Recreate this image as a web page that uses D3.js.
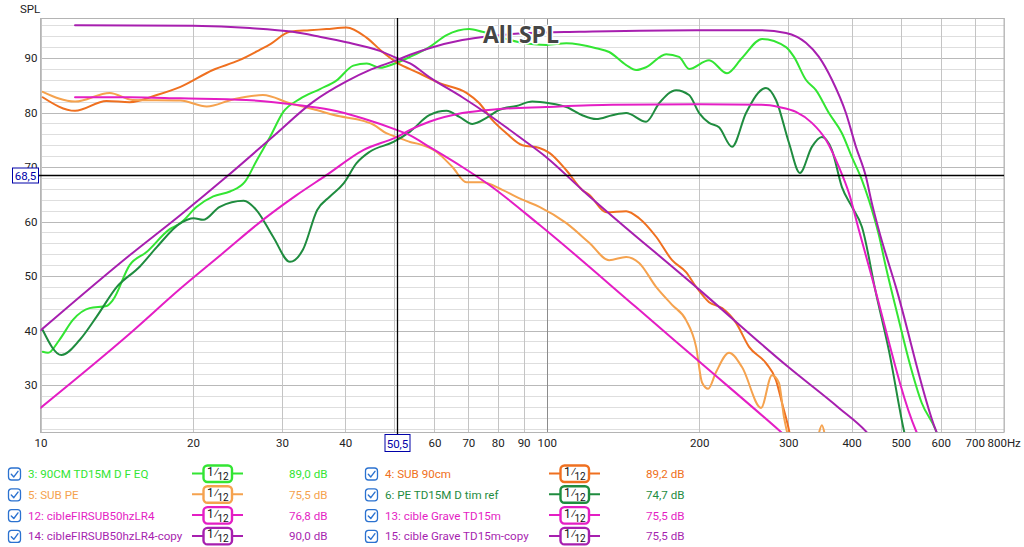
<!DOCTYPE html>
<html><head><meta charset="utf-8">
<script src="https://cdn.jsdelivr.net/npm/d3@7/dist/d3.min.js"></script>
<style>
html,body{margin:0;padding:0;background:#fff;}
svg{display:block;font-family:Roboto,"Noto Sans",sans-serif;}
</style></head>
<body>
<svg id="c" width="1024" height="547"></svg>
<script>
// ---------- DATA ----------
const freqTicks = [10,20,30,40,50,60,70,80,90,100,200,300,400,500,600,700,800];
const freqTickLabels = ["10","20","30","40","","60","70","80","90","100","200","300","400","500","600","700","800Hz"];
const dbTicks = [30,40,50,60,70,80,90];
const dbTickLabels = ["30","40","50","60","70","80","90"];

// 3: 90CM TD15M D F EQ
const s3 = [[10.1,36.1],[10.35,35.9],[10.9,38.3],[11.6,42],[12.5,44.1],[13.5,44.5],[13.9,45.6],[15.0,52],[16.2,54.4],[18.0,58.6],[18.9,59.7],[20.35,62.7],[21.94,64.6],[23.67,65.5],[25.35,67.3],[26.73,71.2],[28.4,75.5],[30.17,80.1],[32.54,82.5],[35.65,84.3],[38.46,85.9],[41.48,88.6],[44.1,89.0],[46.83,88.2],[50.13,89.0],[53.7,90.2],[58.6,92],[63.4,94.2],[70.3,95.3],[74.6,94.8],[88.3,92.9],[99.8,92.4],[109.3,92.7],[125.2,91.8],[132.8,91.1],[143.5,88.7],[150.2,87.8],[157.1,88.3],[172.1,90.7],[182.5,90.2],[191.0,88.0],[209.2,89.6],[227.0,87.2],[243.0,90],[266.2,93.5],[296.8,92],[307.8,90.2],[324.9,86],[340.1,84.1],[360.8,79.9],[382.8,76.2],[400.6,71.8],[419.3,67.6],[432.8,63.9],[452.8,57.5],[467.4,51.7],[495.9,41.9],[518.8,34.6],[550.4,26.7],[586.6,21.7],[600,19]];
// 4: SUB 90cm
const s4 = [[10.1,82.8],[11.7,80.3],[13.5,82.1],[15.0,81.9],[16.97,83.2],[18.9,84.7],[21.9,87.8],[24.7,89.6],[27.1,91.5],[28.5,92.6],[31.05,94.8],[34.0,95.1],[36.7,95.3],[40.2,95.6],[44.1,93.7],[47.4,91.1],[50.5,89.2],[56.0,87.2],[61.4,85.4],[69.4,83.6],[73.6,81.7],[78.1,78.6],[83.2,76.2],[89.5,74],[96.7,73.5],[101.2,72.6],[109.3,69.4],[117.5,65.8],[121.3,64.9],[131.0,61.7],[143.5,61.9],[152.2,60.6],[164.4,57.2],[176.8,52.9],[188.4,50.7],[197.2,48],[209.2,45.2],[222.0,44.1],[236.5,41.4],[250.9,37],[271.0,34],[283.6,30.9],[291.5,26.7],[300.9,21.7],[305,19]];
// 5: SUB PE
const s5 = [[10.1,83.8],[11.7,82],[13.7,83.6],[15.2,82.3],[18.9,82.2],[21.3,81.1],[24.0,82.4],[27.5,83.2],[31.1,81.7],[34.6,80.6],[39.0,79.3],[42.4,78.7],[45.4,77.8],[48.2,76.2],[50.5,75.5],[53.7,74.6],[56.0,74.2],[60.5,72.8],[65.1,70],[69.4,67.2],[74.6,67.2],[81.7,65.8],[89.5,64],[96.7,62.7],[109.3,59.7],[121.3,56.1],[132.8,52.9],[143.5,53.5],[152.2,52.4],[164.4,48],[176.8,44.7],[188.4,41.9],[197.2,37],[202.7,30.4],[208.3,29.3],[216.0,32.4],[229.1,35.9],[243.0,33.3],[265.0,25.8],[278.5,31.8],[287.5,30.4],[294.1,24.1],[298.2,21.4],[305,18],[330,17],[341,19.5],[349.5,22.6],[357,19.5],[368,17]];
// 6: PE TD15M D tim ref
const s6 = [[10.1,40.1],[11.0,35.5],[11.96,38.3],[12.9,42.5],[14.15,48],[15.7,51.7],[16.97,55.3],[18.9,59.7],[20.06,60.6],[20.95,60.3],[22.6,62.7],[25.2,63.8],[26.7,62.1],[28.8,57.2],[31.1,52.6],[32.98,54.8],[35.2,62.1],[37.3,64.6],[39.7,67.0],[42.1,70.7],[44.7,72.8],[49.8,74.6],[53.7,76.5],[58.6,79.5],[63.4,80.3],[67.2,79.2],[71.3,77.9],[76.0,79],[80.6,80.5],[87.1,81.2],[93.6,82],[101.2,81.7],[109.3,81],[117.5,79.5],[125.2,78.8],[134.7,79.5],[143.5,79.9],[157.1,78.3],[166.7,81.7],[180.1,84.1],[191.0,83.2],[200.0,79.9],[209.2,78.1],[218.9,77.3],[232.2,73.7],[247.5,79.9],[271.0,84.5],[283.6,82.3],[300.9,74.4],[316.2,68.9],[333.9,73.7],[349.5,75.5],[365.8,73.1],[382.8,66.3],[400.6,62.7],[419.3,59],[446.7,46.9],[473.8,36.4],[507.3,21.7],[515,19]];
// 12: cibleFIRSUB50hzLR4
const s12 = [[11.7,82.8],[15,82.8],[18.9,82.6],[25.5,82.3],[32.1,81.4],[37.3,80.5],[43.4,78.9],[50.5,76.8],[53.7,75.8],[58.6,73.7],[68.1,70],[77,66.7],[96.7,59.4],[150,44.3],[200,34.3],[287.5,21.7],[310,19]];
// 13: cible Grave TD15m
const s13 = [[10,25.8],[15,39.4],[18.9,47.7],[23,54.3],[27.5,60.3],[32,64.8],[36.7,68.5],[43.4,73.1],[50.5,75.5],[53.7,76.8],[58.6,78.3],[68.1,79.9],[79.5,80.6],[99.8,81],[134.7,81.4],[200,81.5],[266.2,81.4],[287.5,81],[310.6,80.1],[333.9,78.1],[355.9,75],[377.6,70],[395.2,65.2],[413.6,58.4],[438.5,49.8],[535.6,21.7],[560,18]];
// 14: cibleFIRSUB50hzLR4-copy
const s14 = [[11.7,96],[20,95.9],[25.9,95.5],[31.5,94.8],[35.6,93.9],[40.2,92.9],[46.8,91.3],[50.5,90],[53.7,89.0],[58.6,86.5],[68.1,82.8],[77.0,79.5],[88.3,75.5],[99.8,71.8],[117.5,65.8],[200,47.5],[300,33.3],[377.6,25.8],[427,21.5],[450,19]];
// 15: cible Grave TD15m-copy
const s15 = [[10,40],[15,53.8],[18.9,61.2],[23.3,68.2],[28.8,75.6],[34.6,82.0],[40.2,85.7],[45,87.9],[50.5,89.6],[53.7,90.6],[58.6,91.8],[68.1,93.3],[77,94],[92.4,94.6],[115.9,94.8],[197.2,95.1],[266.2,95.1],[296.8,94.6],[324.9,92.8],[344.8,90.2],[365.8,86],[389.8,79.9],[408,73.7],[427,68.2],[438.5,63.4],[452.8,58.4],[489.2,48],[586.6,21.7],[610,18]];

const seriesData = [s3, s4, s5, s6, s12, s13, s14, s15];
const legendNames = ["3: 90CM TD15M D F EQ","4: SUB 90cm","5: SUB PE","6: PE TD15M D tim ref","12: cibleFIRSUB50hzLR4","13: cible Grave TD15m","14: cibleFIRSUB50hzLR4-copy","15: cible Grave TD15m-copy"];
const legendValues = ["89,0 dB","89,2 dB","75,5 dB","74,7 dB","76,8 dB","75,5 dB","90,0 dB","75,5 dB"];
const seriesColors = ["#33e533","#ef7020","#f5a24e","#1f8c3f","#e41ec4","#e41ec4","#a71faf","#a71faf"];
const cursorFreq = 50.5, cursorDb = 68.5;
const cursorFreqLabel = "50,5", cursorDbLabel = "68,5";
const titleText = "All SPL", yAxisTitle = "SPL";

// ---------- LAYOUT ----------
const svg = d3.select("#c");
const L = 40.5, R = 1004, T = 18, B = 432;
const x = d3.scaleLog().domain([10,800]).range([L,R]);
const y = d3.scaleLinear().domain([30,90]).range([385,58]);

svg.append("defs").append("clipPath").attr("id","clip")
  .append("rect").attr("x",L).attr("y",T).attr("width",R-L).attr("height",B-T);

const grid = svg.append("g");
const yMin = y.invert(B), yMax = y.invert(T);
const minorDb = d3.range(Math.ceil(yMin/2)*2, yMax, 2);
grid.selectAll(".hm").data(minorDb.filter(d=>d%10!==0)).join("line")
  .attr("x1",L).attr("x2",R).attr("y1",d=>Math.round(y(d))+0.5).attr("y2",d=>Math.round(y(d))+0.5)
  .attr("stroke","#dedede").attr("stroke-width",1);
grid.selectAll(".hM").data(dbTicks).join("line")
  .attr("x1",L).attr("x2",R).attr("y1",d=>Math.round(y(d))+0.5).attr("y2",d=>Math.round(y(d))+0.5)
  .attr("stroke","#b9b9b9").attr("stroke-width",1);
grid.selectAll(".v").data(freqTicks).join("line")
  .attr("x1",d=>Math.round(x(d))+0.5).attr("x2",d=>Math.round(x(d))+0.5).attr("y1",T).attr("y2",B)
  .attr("stroke",d=>d===100?"#8c8c8c":"#c4c4c4").attr("stroke-width",1);
grid.append("rect").attr("x",L).attr("y",T+0.5).attr("width",R-L).attr("height",B-T)
  .attr("fill","none").attr("stroke","#b4b4b4").attr("stroke-width",1);

// axis labels
const xAxis = d3.axisBottom(x).tickValues(freqTicks).tickSize(0).tickPadding(0)
  .tickFormat((d,i)=>freqTickLabels[i]);
const gx = svg.append("g").attr("transform",`translate(0,${B+7})`).call(xAxis);
gx.select(".domain").remove();
gx.selectAll("text").attr("font-size",11.5).attr("fill","#222").attr("font-family","Roboto,sans-serif");
gx.selectAll(".tick").filter(d=>d===800).select("text").attr("text-anchor","start").attr("dx",-17);

const yAxis = d3.axisLeft(y).tickValues(dbTicks).tickSize(0).tickPadding(0)
  .tickFormat((d,i)=>dbTickLabels[i]);
const gy = svg.append("g").attr("transform",`translate(${L-3},0)`).call(yAxis);
gy.select(".domain").remove();
gy.selectAll("text").attr("font-size",11.5).attr("fill","#222").attr("font-family","Roboto,sans-serif");

svg.append("text").attr("x",20).attr("y",13).attr("font-size",11.5).attr("fill","#222").text(yAxisTitle);

// curves
const line = d3.line().x(d=>x(d[0])).y(d=>y(d[1])).curve(d3.curveMonotoneX);
const curves = svg.append("g").attr("clip-path","url(#clip)");
curves.selectAll("path").data(seriesData).join("path")
  .attr("d",line).attr("fill","none")
  .attr("stroke",(d,i)=>seriesColors[i]).attr("stroke-width",2)
  .attr("stroke-linejoin","round").attr("stroke-linecap","round");

// title
svg.append("text").attr("x",521).attr("y",43).attr("text-anchor","middle")
  .attr("font-family","'Open Sans',sans-serif").attr("font-weight","bold").attr("font-size",23)
  .attr("fill","#454545").attr("stroke","#fff").attr("stroke-width",3).attr("paint-order","stroke")
  .attr("stroke-linejoin","round").text(titleText);

// crosshair
const cx = Math.round(x(cursorFreq))+0.5, cy = Math.round(y(cursorDb))+0.5;
svg.append("line").attr("x1",cx).attr("x2",cx).attr("y1",T).attr("y2",B+2).attr("stroke","#000").attr("stroke-width",1.3);
svg.append("line").attr("x1",38).attr("x2",R).attr("y1",cy).attr("y2",cy).attr("stroke","#000").attr("stroke-width",1.3);
svg.append("rect").attr("x",12.5).attr("y",cy-7.5).attr("width",26).attr("height",15).attr("fill","#fff").attr("stroke","#0000a8");
svg.append("text").attr("x",25.5).attr("y",cy+4).attr("text-anchor","middle").attr("font-size",11.5).attr("fill","#0000a8").text(cursorDbLabel);
svg.append("rect").attr("x",cx-12.5).attr("y",B+2.5).attr("width",25).attr("height",17).attr("fill","#fff").attr("stroke","#0000a8");
svg.append("text").attr("x",cx).attr("y",B+15.5).attr("text-anchor","middle").attr("font-size",11.5).attr("fill","#0000a8").text(cursorFreqLabel);

// legend
const colX = [0, 357];
const rowY0 = 473.5, rowH = 20.8;
const leg = svg.append("g");
legendNames.forEach((name,i)=>{
  const col = i%2, row = Math.floor(i/2);
  const ox = colX[col], cyy = rowY0 + row*rowH;
  const c = seriesColors[i];
  const g = leg.append("g").attr("transform",`translate(${ox},${cyy})`);
  g.append("rect").attr("x",8.5).attr("y",-5.5).attr("width",12).attr("height",12).attr("rx",3)
    .attr("fill","#fff").attr("stroke","#2b72d0").attr("stroke-width",1.3);
  g.append("path").attr("d","M11.3,0.8 L13.8,3.4 L18,-2.2").attr("fill","none")
    .attr("stroke","#2b72d0").attr("stroke-width",1.4).attr("stroke-linecap","round").attr("stroke-linejoin","round");
  g.append("text").attr("x",28).attr("y",4.5).attr("font-size",11.6).attr("fill",c).text(name);
  g.append("line").attr("x1",192).attr("x2",243).attr("y1",0).attr("y2",0).attr("stroke",c).attr("stroke-width",2);
  g.append("rect").attr("x",203.5).attr("y",-8).attr("width",28.5).attr("height",16.5).attr("rx",4)
    .attr("fill","#fff").attr("stroke",c).attr("stroke-width",2.4);
  g.append("text").attr("x",207).attr("y",2.5).attr("font-size",12).attr("fill","#111").text("1⁄");
  g.append("text").attr("x",217.5).attr("y",6.5).attr("font-size",10).attr("fill","#111").text("12");
  g.append("text").attr("x",289).attr("y",4.5).attr("font-size",11.6).attr("fill",c).text(legendValues[i]);
});
</script>
</body></html>
